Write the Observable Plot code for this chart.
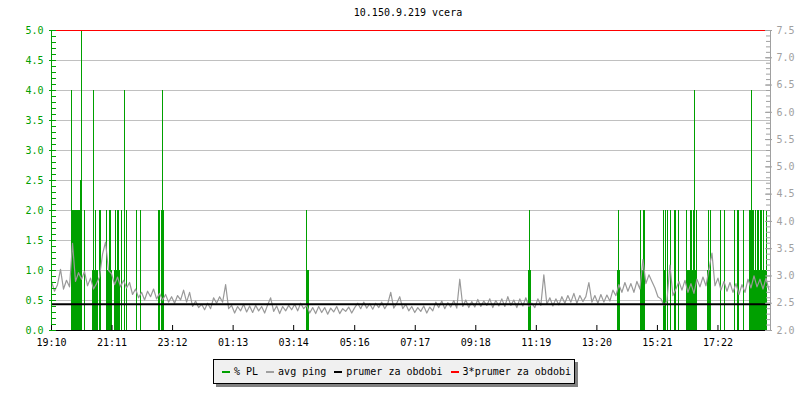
<!DOCTYPE html>
<html><head><meta charset="utf-8">
<script src="https://cdn.jsdelivr.net/npm/d3@7"></script>
<script src="https://cdn.jsdelivr.net/npm/@observablehq/plot@0.6"></script>
<style>
html,body{margin:0;padding:0;background:#fff;}
#wrap{position:relative;width:800px;height:400px;overflow:hidden;font-family:"DejaVu Sans Mono",monospace;}
#title{height:24px;box-sizing:border-box;padding-top:8px;padding-left:16px;line-height:10px;font-size:10px;text-align:center;color:#000;}
#chart svg{display:block;}
#legend{position:absolute;left:213px;top:359px;height:25px;box-sizing:border-box;border:1px solid #000;background:#f0f0f0;box-shadow:3px 3px 0 #808080;display:flex;align-items:center;padding:0 3px 0 8px;font-size:10px;white-space:pre;color:#000;}
.item{display:flex;align-items:center;margin-right:8px;}
.item:last-child{margin-right:0;}
.sw{display:inline-block;width:8px;height:2px;margin-right:4px;}
</style></head>
<body>
<div id="wrap">
  <div id="title"></div>
  <div id="chart"></div>
  <div id="legend"></div>
</div>
<script>
// ---------- data ----------
const titleText = "10.150.9.219 vcera";
const startClock = "19:10";
const spanMinutes = 1437;                 // width of the time window (minutes)
const xTickLabels = ["19:10","21:11","23:12","01:13","03:14","05:16","07:17","09:18","11:19","13:20","15:21","17:22"];
const leftLabels = [0,0.5,1,1.5,2,2.5,3,3.5,4,4.5,5];          // % PL axis
const rightLabels = [2,2.5,3,3.5,4,4.5,5,5.5,6,6.5,7,7.5];      // ping (ms) axis
const rightMin = 2, rightMax = 7.5, leftMax = 5;

// avg ping (ms), one sample every 6 minutes starting at 19:10
const avgPing = [
 2.90,2.72,2.84,3.12,2.76,2.92,2.80,3.60,2.90,3.06,
 2.94,3.08,2.82,2.96,2.76,2.86,2.98,3.40,3.62,3.10,
 3.04,2.84,2.98,2.80,2.92,2.78,2.88,2.66,2.76,2.60,
 2.70,2.56,2.72,2.62,2.76,2.58,2.68,2.56,2.66,2.52,
 2.62,2.50,2.64,2.56,2.74,2.52,2.70,2.44,2.54,2.42,
 2.48,2.38,2.50,2.40,2.60,2.50,2.62,2.52,2.84,2.40,
 2.46,2.32,2.44,2.36,2.48,2.34,2.45,2.33,2.46,2.36,
 2.44,2.32,2.47,2.60,2.35,2.45,2.31,2.44,2.36,2.46,
 2.38,2.48,2.36,2.50,2.40,2.46,2.32,2.42,2.31,2.44,
 2.33,2.42,2.30,2.41,2.34,2.44,2.31,2.40,2.35,2.43,
 2.32,2.42,2.50,2.40,2.52,2.41,2.49,2.39,2.50,2.42,
 2.52,2.40,2.49,2.70,2.41,2.50,2.62,2.40,2.48,2.36,
 2.44,2.33,2.42,2.35,2.45,2.32,2.43,2.36,2.52,2.42,
 2.54,2.40,2.51,2.43,2.55,2.41,2.94,2.44,2.56,2.42,
 2.53,2.43,2.57,2.44,2.54,2.46,2.58,2.42,2.55,2.45,
 2.58,2.44,2.62,2.46,2.56,2.42,2.58,2.45,2.60,2.44,
 2.50,2.42,2.58,2.46,3.02,2.48,2.60,2.45,2.58,2.47,
 2.62,2.50,2.64,2.52,2.68,2.50,2.64,2.53,2.62,2.88,
 2.52,2.64,2.50,2.66,2.52,2.65,2.54,2.74,2.64,2.84,
 2.70,2.88,2.72,2.86,2.70,2.90,2.76,3.30,2.86,3.02,
 2.90,2.78,2.62,2.58,2.46,2.54,3.20,2.64,2.76,2.90,
 2.74,2.92,2.70,2.86,2.68,2.94,2.80,2.98,2.82,3.12,
 3.42,2.82,2.96,2.74,2.90,2.72,2.88,2.70,2.86,2.66,
 2.84,2.70,2.94,2.78,3.00,2.80,2.94,2.76,2.96,2.74
];
const pingStepMinutes = 6;

// packet loss (%): start minute, end minute (from 19:10), value
const plStart = [39,40,57,60,65,82,84,88,96,110,110,115,126,127,132,139,146,150,169,177,214,220,222,
  510,510,955,954,1133,1132,1177,1178,1184,1223,1224,1227,1232,1237,1245,1254,1270,1270,1277,1283,1286,1289,
  1312,1313,1317,1337,1345,1365,1372,1384,1395,1396,1400,1402,1408,1412,1418,1424,1429];
const plEnd = [61,42,59,62,68,93,86,90,99,121,112,119,138,130,135,142,148,152,172,180,217,225,224,
  512,515,957,959,1136,1137,1188,1180,1188,1230,1226,1229,1234,1240,1249,1256,1292,1272,1281,1285,1288,1292,
  1320,1315,1320,1340,1348,1368,1375,1386,1432,1399,1402,1406,1410,1415,1421,1426,1431];
const plValue = [2,4,2.5,5,2,1,4,2,2,1,2,2,1,2,2,2,4,2,2,2,2,2,4,
  2,1,2,1,2,1,1,2,2,1,2,2,2,2,2,2,1,2,2,2,4,2,
  1,2,2,2,2,2,2,2,1,2,4,2,2,2,2,2,2];

const prumer = 2.48;     // average for period (ms)
const prumer3 = 7.5;     // 3*average line as drawn (at chart top)

const legendItems = ["% PL","avg ping","prumer za obdobi","3*prumer za obdobi"];
const legendColors = ["#00a000","#a0a0a0","#000000","#ff0000"];

// ---------- build ----------
const green = "#00a000", gray = "#a0a0a0";
const toLeft = ms => (ms - rightMin) / ((rightMax - rightMin) / leftMax);
const clockMin = s => { const [h, m] = s.split(":").map(Number); return h * 60 + m; };
const t0 = clockMin(startClock);
const tickMin = xTickLabels.map(s => (clockMin(s) - t0 + 1440) % 1440);
const tickLabelMap = new Map(tickMin.map((t, i) => [t, xTickLabels[i]]));

const pingData = avgPing.map((v, i) => ({t: i * pingStepMinutes, v}));
const plData = plStart.map((s, i) => ({s, e: plEnd[i], v: plValue[i]}));
plData.sort((a, b) => b.v - a.v);

const leftMinor = d3.range(0, 50.5).map(i => i / 10);
const rightMinor = d3.range(20, 75.5).map(i => i / 10);
const gridVals = leftLabels.filter(v => v > 0 && v < leftMax);

const chart = Plot.plot({
  width: 800, height: 326,
  marginLeft: 51, marginRight: 30, marginTop: 6, marginBottom: 20,
  style: {fontFamily: "DejaVu Sans Mono", fontSize: "10px", background: "#fff"},
  x: {domain: [0, spanMinutes], label: null},
  y: {domain: [0, leftMax], label: null},
  marks: [
    Plot.ruleY(gridVals, {stroke: "#c0c0c0"}),
    Plot.rect(plData, {x1: "s", x2: "e", y1: 0, y2: "v", fill: green, shapeRendering: "crispEdges"}),
    Plot.line(pingData, {x: "t", y: d => toLeft(d.v), stroke: "#999999", strokeWidth: 1.2}),
    Plot.ruleY([prumer], {y: d => toLeft(d), stroke: "#000", strokeWidth: 2}),
    Plot.ruleY([prumer3], {y: d => toLeft(d), stroke: "#ff0000", strokeWidth: 1}),
    Plot.ruleY([0], {stroke: "#000"}),
    Plot.ruleX([0], {stroke: green}),
    Plot.ruleX([spanMinutes], {stroke: gray}),
    Plot.ruleY(leftMinor, {x1: 0, x2: 0, insetRight: -5, stroke: green}),
    Plot.ruleY(leftLabels, {x1: 0, x2: 0, insetLeft: -2, stroke: green}),
    Plot.ruleY(rightMinor, {y: d => toLeft(d), x1: spanMinutes, x2: spanMinutes, insetLeft: -4, stroke: gray}),
    Plot.ruleY(rightLabels, {y: d => toLeft(d), x1: spanMinutes, x2: spanMinutes, insetLeft: -5, insetRight: -2, stroke: gray}),
    Plot.ruleX(tickMin, {y1: 0, y2: 0, insetTop: -5, stroke: "#000"}),
    Plot.axisY({anchor: "left", ticks: leftLabels, tickSize: 0, tickPadding: 8, tickFormat: d => d.toFixed(1), fill: green, label: null}),
    Plot.axisY({anchor: "right", ticks: rightLabels.map(toLeft), tickSize: 0, tickPadding: 6,
      tickFormat: d => (rightMin + d * (rightMax - rightMin) / leftMax).toFixed(1), fill: gray, label: null}),
    Plot.axisX({anchor: "bottom", ticks: tickMin, tickSize: 0, tickPadding: 8, tickFormat: d => tickLabelMap.get(d), fill: "#000", label: null})
  ]
});
document.getElementById("chart").appendChild(chart);
document.getElementById("title").textContent = titleText;

const leg = document.getElementById("legend");
legendItems.forEach((name, i) => {
  const it = document.createElement("span");
  it.className = "item";
  const sw = document.createElement("span");
  sw.className = "sw";
  sw.style.background = legendColors[i];
  const tx = document.createElement("span");
  tx.textContent = name;
  it.appendChild(sw); it.appendChild(tx);
  leg.appendChild(it);
});
</script>
</body></html>
